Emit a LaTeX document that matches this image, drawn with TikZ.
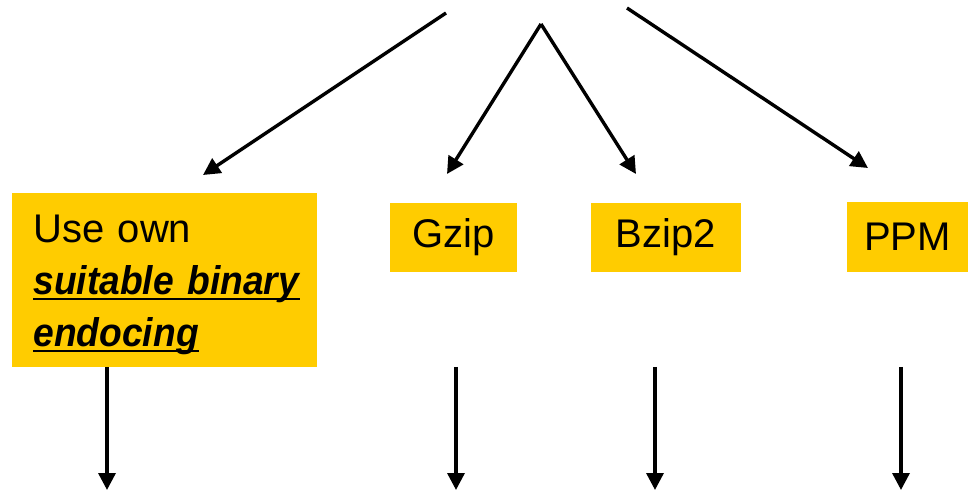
\documentclass[tikz,border=0pt]{standalone}
\usepackage{fontspec}
\setmainfont{Liberation Sans}
\usetikzlibrary{arrows.meta}
\definecolor{gold}{HTML}{FFCC00}
\newsavebox{\ulsave}
\newcommand{\ulword}[1]{\leavevmode\sbox{\ulsave}{#1}\rlap{\usebox{\ulsave}}\rule[-2.7pt]{\wd\ulsave}{1.4pt}}
\newcommand{\emword}[1]{\ulword{\addfontfeatures{FakeStretch=0.93}\textbf{\textit{#1}}}}

\begin{document}
\begin{tikzpicture}[x=0.5pt,y=-0.5pt,
		box/.style={fill=gold,inner sep=0pt,font=\fontsize{20}{26}\selectfont},
		arr/.style={line width=1.7pt,-{Triangle[length=8.5pt,width=8.5pt]}}]
		\useasboundingbox (0,0) rectangle (971,492);

		\node[box,minimum width=152.5pt,minimum height=87pt]	(own)	at (164.5,280)	{};
		\node[inner sep=0pt,text width=145pt,align=left,anchor=north west,font=\fontsize{20}{26}\selectfont]	(own-text)	at (33,215)	{Use own\\\emword{suitable binary}\\\emword{endocing}};
		\node[box,minimum width=63.5pt,minimum height=34.5pt]	(gzip)	at (453.5,237.5)	{Gzip};
		\node[box,minimum width=75pt,minimum height=34.5pt]	(bzip)	at (666,237.5)	{Bzip2};
		\node[box,minimum width=60.5pt,minimum height=35pt]	(ppm)	at (907.5,237)	{PPM};

		\coordinate (l-top)		at (446,13);
		\coordinate (l-tip)		at (203,175);
		\coordinate (apex)		at (541,24);
		\coordinate (g-tip)		at (447,174);
		\coordinate (b-tip)		at (636,174);
		\coordinate (r-top)		at (627,8);
		\coordinate (r-tip)		at (868,168);

		\coordinate (own-out)	at (107,367);
		\coordinate (own-end)	at (107,490);
		\coordinate (gzip-out)	at (456,367);
		\coordinate (gzip-end)	at (456,490);
		\coordinate (bzip-out)	at (655,367);
		\coordinate (bzip-end)	at (655,490);
		\coordinate (ppm-out)	at (901,367);
		\coordinate (ppm-end)	at (901,490);

		\draw[arr] (l-top) -- (l-tip);
		\draw[arr] (apex) -- (g-tip);
		\draw[arr] (apex) -- (b-tip);
		\draw[arr] (r-top) -- (r-tip);

		\draw[arr] (own-out) -- (own-end);
		\draw[arr] (gzip-out) -- (gzip-end);
		\draw[arr] (bzip-out) -- (bzip-end);
		\draw[arr] (ppm-out) -- (ppm-end);
	\end{tikzpicture}
\end{document}
